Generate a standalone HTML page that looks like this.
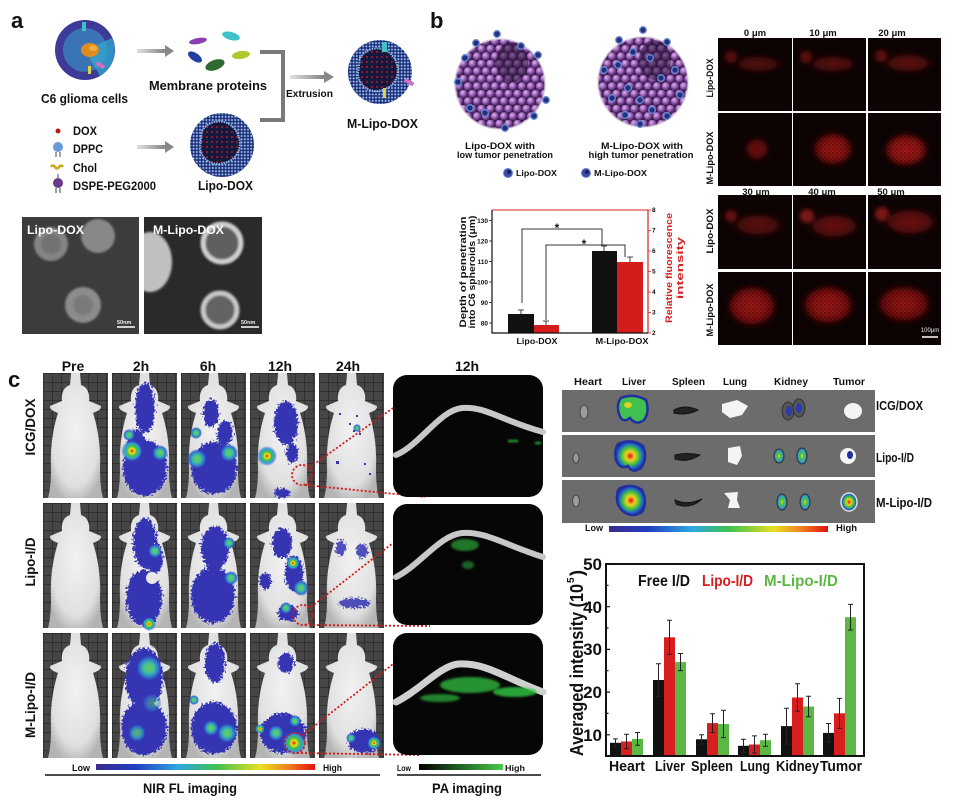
<!DOCTYPE html>
<html><head><meta charset="utf-8"><style>
html,body{margin:0;padding:0;background:#fff;}
svg{display:block;}
text{font-family:"Liberation Sans",Arial,sans-serif;font-weight:bold;fill:#111;}
</style></head><body>
<svg width="955" height="800" viewBox="0 0 955 800" xmlns="http://www.w3.org/2000/svg">
<defs>
  <linearGradient id="arr" x1="0" x2="1"><stop offset="0" stop-color="#e0e0e0"/><stop offset="1" stop-color="#808080"/></linearGradient>
  <pattern id="lipoDots" width="3.2" height="3.2" patternUnits="userSpaceOnUse"><rect width="3.2" height="3.2" fill="#1d2c78"/><circle cx="1.6" cy="1.6" r="1" fill="#9cc4ee"/></pattern>
  <pattern id="redDots" width="5" height="5" patternUnits="userSpaceOnUse"><rect width="5" height="5" fill="#14183e"/><circle cx="2" cy="2" r="0.9" fill="#e02020"/></pattern>
  <radialGradient id="ball" cx="0.38" cy="0.35" r="0.65"><stop offset="0" stop-color="#e0b8ee"/><stop offset="0.5" stop-color="#9c62b8"/><stop offset="1" stop-color="#4a2462"/></radialGradient>
  <pattern id="balls" width="9" height="15" patternUnits="userSpaceOnUse"><rect width="9" height="15" fill="#3c1e50"/><circle cx="4.5" cy="3.8" r="4.2" fill="url(#ball)"/><circle cx="0" cy="11.3" r="4.2" fill="url(#ball)"/><circle cx="9" cy="11.3" r="4.2" fill="url(#ball)"/></pattern>
  <pattern id="grid" width="9" height="9" patternUnits="userSpaceOnUse"><rect width="9" height="9" fill="#464646"/><path d="M0 0H9M0 0V9" stroke="#282828" stroke-width="1.4"/></pattern>
  <pattern id="speck" width="4" height="4" patternUnits="userSpaceOnUse"><circle cx="1" cy="1" r="0.9" fill="#000"/><circle cx="3" cy="3" r="0.7" fill="#000"/></pattern>
  <radialGradient id="mouseG" cx="0.5" cy="0.45" r="0.6"><stop offset="0" stop-color="#f2f2f2"/><stop offset="0.75" stop-color="#e0e0e0"/><stop offset="1" stop-color="#b4b4b4"/></radialGradient>
  <path id="mouse" d="M28,0 L37,0 L38,12 C45,14 47,22 46,28 L58,33 C59,37 52,39 50,40 C55,55 58,75 57,95 C57,108 58,118 60,125 L5,125 C7,118 8,108 8,95 C7,75 10,55 15,40 C13,39 6,37 7,33 L19,28 C18,22 20,14 27,12 Z"/>
  <filter id="rag" x="-20%" y="-20%" width="140%" height="140%"><feTurbulence type="fractalNoise" baseFrequency="0.45" numOctaves="2" seed="4"/><feDisplacementMap in="SourceGraphic" scale="9" xChannelSelector="R" yChannelSelector="G"/></filter>
  <filter id="blur2"><feGaussianBlur stdDeviation="2"/></filter>
  <filter id="blur1"><feGaussianBlur stdDeviation="1"/></filter>
  <radialGradient id="hot"><stop offset="0" stop-color="#e01010"/><stop offset="0.22" stop-color="#f0e020"/><stop offset="0.45" stop-color="#40c040"/><stop offset="0.7" stop-color="#30a0e0"/><stop offset="1" stop-color="#3a3ab8" stop-opacity="0"/></radialGradient>
  <radialGradient id="warm"><stop offset="0" stop-color="#70d040"/><stop offset="0.4" stop-color="#40c0a0"/><stop offset="0.75" stop-color="#3070d0"/><stop offset="1" stop-color="#3a3ab8" stop-opacity="0"/></radialGradient>
  <radialGradient id="redBlob"><stop offset="0" stop-color="#c81e1e"/><stop offset="0.7" stop-color="#961212"/><stop offset="1" stop-color="#400606" stop-opacity="0"/></radialGradient>
  <radialGradient id="dimBlob"><stop offset="0" stop-color="#701212"/><stop offset="0.7" stop-color="#520d0d"/><stop offset="1" stop-color="#200404" stop-opacity="0"/></radialGradient>
  <linearGradient id="rainbow" x1="0" x2="1"><stop offset="0" stop-color="#3a2a90"/><stop offset="0.18" stop-color="#2040c0"/><stop offset="0.38" stop-color="#30a8e0"/><stop offset="0.55" stop-color="#40c050"/><stop offset="0.75" stop-color="#e8e020"/><stop offset="0.88" stop-color="#f08020"/><stop offset="1" stop-color="#e01010"/></linearGradient>
  <linearGradient id="greenbar" x1="0" x2="1"><stop offset="0" stop-color="#000"/><stop offset="1" stop-color="#48c848"/></linearGradient>
  <radialGradient id="organHot"><stop offset="0" stop-color="#e01010"/><stop offset="0.3" stop-color="#f0d020"/><stop offset="0.6" stop-color="#40c040"/><stop offset="0.85" stop-color="#2060d0"/><stop offset="1" stop-color="#2030a0"/></radialGradient>
  <radialGradient id="organWarm"><stop offset="0" stop-color="#e0e020"/><stop offset="0.35" stop-color="#50c040"/><stop offset="0.8" stop-color="#30a0d0"/><stop offset="1" stop-color="#2030a0"/></radialGradient>
  <clipPath id="tem2"><rect x="144" y="217" width="118" height="117"/></clipPath>
  <clipPath id="sph1"><circle cx="500" cy="84" r="45"/></clipPath>
  <clipPath id="sph2"><circle cx="643" cy="82" r="45"/></clipPath>
</defs>

<!-- ============ PANEL A ============ -->
<text x="11" y="28" font-size="22">a</text>
<circle cx="85" cy="50" r="30" fill="#3d3a98"/>
<path d="M85,50 L112,38 A30,30 0 0 1 100,76 Z" fill="#2f8fc0"/>
<circle cx="85" cy="50" r="22" fill="#3aa4d0" opacity="0.55"/>
<ellipse cx="90" cy="50" rx="9" ry="7" fill="#e08a20"/>
<ellipse cx="93" cy="48" rx="4" ry="3" fill="#f0b040"/>
<rect x="82" y="22" width="4" height="9" fill="#40c0c0"/>
<rect x="96" y="63" width="9" height="4" fill="#d070c0" transform="rotate(30 100 65)"/>
<rect x="88" y="66" width="3" height="8" fill="#e0d040"/>
<text x="41" y="103" font-size="13" textLength="87" lengthAdjust="spacingAndGlyphs">C6 glioma cells</text>
<g fill="url(#arr)">
  <rect x="137" y="49" width="30" height="4"/><path d="M165,45 L174,51 L165,57 Z" fill="#888"/>
  <rect x="137" y="145" width="30" height="4"/><path d="M165,141 L174,147 L165,153 Z" fill="#888"/>
  <rect x="290" y="75" width="36" height="4"/><path d="M324,71 L334,77 L324,83 Z" fill="#888"/>
</g>
<ellipse cx="198" cy="41" rx="9" ry="3" fill="#8a40b0" transform="rotate(-10 198 41)"/>
<ellipse cx="231" cy="36" rx="9" ry="4" fill="#40c0c8" transform="rotate(15 231 36)"/>
<ellipse cx="195" cy="57" rx="8" ry="4" fill="#2040a0" transform="rotate(35 195 57)"/>
<ellipse cx="215" cy="65" rx="10" ry="5" fill="#2e6a30" transform="rotate(-20 215 65)"/>
<ellipse cx="241" cy="55" rx="9" ry="4" fill="#b0c830" transform="rotate(-8 241 55)"/>
<text x="149" y="90" font-size="13" textLength="118" lengthAdjust="spacingAndGlyphs">Membrane proteins</text>
<path d="M260,52 H283 V120 H260" fill="none" stroke="#7a7a7a" stroke-width="4"/>
<text x="286" y="97" font-size="10.5" textLength="47" lengthAdjust="spacingAndGlyphs">Extrusion</text>
<g>
  <circle cx="222" cy="145" r="32" fill="url(#lipoDots)"/>
  <path d="M222,145 m-20,-14 a20,20 0 0 1 36,4 a20,20 0 0 1 -14,28 a18,18 0 0 1 -24,-16 z" fill="url(#redDots)" stroke="#8ab8e8" stroke-width="2" stroke-dasharray="1.5,1"/>
</g>
<text x="198" y="190" font-size="13" textLength="55" lengthAdjust="spacingAndGlyphs">Lipo-DOX</text>
<g>
  <circle cx="380" cy="72" r="32" fill="url(#lipoDots)"/>
  <path d="M380,72 m-20,-14 a20,20 0 0 1 36,4 a20,20 0 0 1 -14,28 a18,18 0 0 1 -24,-16 z" fill="url(#redDots)" stroke="#8ab8e8" stroke-width="2" stroke-dasharray="1.5,1"/>
  <rect x="382" y="42" width="5" height="10" fill="#40c0c0"/>
  <rect x="404" y="80" width="10" height="4" fill="#d070c0" transform="rotate(30 409 82)"/>
  <rect x="383" y="88" width="3" height="10" fill="#e0d040"/>
</g>
<text x="347" y="128" font-size="13" textLength="71" lengthAdjust="spacingAndGlyphs">M-Lipo-DOX</text>
<circle cx="58" cy="131" r="2.5" fill="#c01818"/>
<text x="73" y="135" font-size="12" textLength="24" lengthAdjust="spacingAndGlyphs">DOX</text>
<circle cx="58" cy="147" r="5" fill="#6a9ad8"/><path d="M56,152 V157 M60,152 V157" stroke="#345" stroke-width="1"/>
<text x="73" y="153" font-size="12" textLength="30" lengthAdjust="spacingAndGlyphs">DPPC</text>
<path d="M51,167 q2,-3 4,0 t4,0 t4,0" stroke="#c8a820" stroke-width="2.5" fill="none"/>
<text x="73" y="172" font-size="12" textLength="24" lengthAdjust="spacingAndGlyphs">Chol</text>
<circle cx="58" cy="183" r="5" fill="#6a3a88"/><path d="M56,188 V193 M60,188 V193" stroke="#345" stroke-width="1"/><path d="M58,178 V174" stroke="#6a3a88"/>
<text x="73" y="190" font-size="12" textLength="83" lengthAdjust="spacingAndGlyphs">DSPE-PEG2000</text>
<!-- TEM -->
<rect x="22" y="217" width="117" height="117" fill="#3c3c3c"/>
<g filter="url(#blur1)">
  <circle cx="51" cy="244" r="17" fill="#848484"/><circle cx="98" cy="236" r="17" fill="#888"/><circle cx="83" cy="305" r="18" fill="#8c8c8c"/>
  <circle cx="51" cy="244" r="10" fill="#727272"/><circle cx="83" cy="305" r="10" fill="#7a7a7a"/>
</g>
<text x="27" y="234" font-size="11.5" style="fill:#fff" textLength="57" lengthAdjust="spacingAndGlyphs">Lipo-DOX</text>
<path d="M117,327 H135" stroke="#fff" stroke-width="1.5"/>
<text x="117" y="324" font-size="5.5" style="fill:#eee">50nm</text>
<rect x="144" y="217" width="118" height="117" fill="#2a2a2a"/>
<g clip-path="url(#tem2)" filter="url(#blur1)">
  <ellipse cx="150" cy="262" rx="22" ry="30" fill="#c0c0c0"/>
  <circle cx="222" cy="243" r="19" fill="#5e5e5e" stroke="#d0d0d0" stroke-width="5"/>
  <circle cx="220" cy="310" r="17" fill="#646464" stroke="#c8c8c8" stroke-width="5"/>
</g>
<text x="153" y="234" font-size="11.5" style="fill:#fff" textLength="71" lengthAdjust="spacingAndGlyphs">M-Lipo-DOX</text>
<path d="M241,327 H259" stroke="#fff" stroke-width="1.5"/>
<text x="241" y="324" font-size="5.5" style="fill:#eee">50nm</text>

<!-- ============ PANEL B ============ -->
<text x="430" y="28" font-size="22">b</text>
<g clip-path="url(#sph1)">
  <rect x="450" y="35" width="100" height="100" fill="url(#balls)"/>
  <ellipse cx="512" cy="62" rx="16" ry="20" fill="#2a1438" opacity="0.55"/>
</g>
<circle cx="500" cy="84" r="45" fill="none" stroke="#d8d0dc" stroke-width="2" opacity="0.6"/>
<g fill="#24307a" stroke="#6a8ad8" stroke-width="1.3">
  <circle cx="497" cy="34" r="3.3"/><circle cx="476" cy="43" r="3.3"/><circle cx="465" cy="58" r="3.3"/><circle cx="458" cy="82" r="3.3"/>
  <circle cx="470" cy="108" r="3.3"/><circle cx="485" cy="113" r="3.3"/><circle cx="505" cy="128" r="3.3"/><circle cx="534" cy="116" r="3.3"/><circle cx="546" cy="100" r="3.3"/><circle cx="538" cy="55" r="3.3"/><circle cx="521" cy="46" r="3.3"/>
</g>
<g clip-path="url(#sph2)">
  <rect x="593" y="33" width="100" height="100" fill="url(#balls)"/>
  <ellipse cx="655" cy="60" rx="16" ry="20" fill="#2a1438" opacity="0.55"/>
</g>
<circle cx="643" cy="82" r="45" fill="none" stroke="#d8d0dc" stroke-width="2" opacity="0.6"/>
<g fill="#24307a" stroke="#6a8ad8" stroke-width="1.3">
  <circle cx="643" cy="30" r="3.3"/><circle cx="619" cy="40" r="3.3"/><circle cx="667" cy="42" r="3.3"/><circle cx="604" cy="70" r="3.3"/><circle cx="618" cy="65" r="3.3"/>
  <circle cx="628" cy="88" r="3.3"/><circle cx="612" cy="98" r="3.3"/><circle cx="640" cy="100" r="3.3"/><circle cx="661" cy="78" r="3.3"/><circle cx="675" cy="70" r="3.3"/>
  <circle cx="680" cy="95" r="3.3"/><circle cx="652" cy="110" r="3.3"/><circle cx="640" cy="124" r="3.3"/><circle cx="625" cy="115" r="3.3"/><circle cx="667" cy="116" r="3.3"/><circle cx="650" cy="58" r="3.3"/><circle cx="633" cy="52" r="3.3"/>
</g>
<text x="500" y="149" font-size="9.5" text-anchor="middle" textLength="70" lengthAdjust="spacingAndGlyphs">Lipo-DOX with</text>
<text x="505" y="158" font-size="9.5" text-anchor="middle" textLength="96" lengthAdjust="spacingAndGlyphs">low tumor penetration</text>
<text x="642" y="149" font-size="9.5" text-anchor="middle" textLength="82" lengthAdjust="spacingAndGlyphs">M-Lipo-DOX with</text>
<text x="641" y="158" font-size="9.5" text-anchor="middle" textLength="105" lengthAdjust="spacingAndGlyphs">high tumor penetration</text>
<circle cx="508" cy="173" r="4.5" fill="#3a4aa8" stroke="#6a80d0" stroke-width="1"/><circle cx="509" cy="172" r="1.8" fill="#181848"/>
<text x="516" y="176" font-size="8.5" textLength="41" lengthAdjust="spacingAndGlyphs">Lipo-DOX</text>
<circle cx="586" cy="173" r="4.5" fill="#3a4aa8" stroke="#6a80d0" stroke-width="1"/><circle cx="587" cy="172" r="1.8" fill="#181848"/>
<text x="594" y="176" font-size="8.5" textLength="53" lengthAdjust="spacingAndGlyphs">M-Lipo-DOX</text>
<!-- bar chart b -->
<rect x="508" y="314" width="26" height="19" fill="#111"/>
<rect x="534" y="325" width="25" height="8" fill="#d41c1c"/>
<rect x="592" y="251" width="25" height="82" fill="#111"/>
<rect x="617" y="262" width="26" height="71" fill="#d41c1c"/>
<g stroke="#111" stroke-width="0.8">
  <path d="M521,314 V310 M518,310 H524"/><path d="M546,325 V321 M543,321 H549"/>
  <path d="M604,251 V246 M601,246 H607"/><path d="M630,262 V257 M627,257 H633"/>
</g>
<g fill="none" stroke="#333" stroke-width="1">
  <path d="M522,303 V229 H602 V246"/><path d="M546,320 V245 H625 V257"/>
</g>
<text x="557" y="232" font-size="12" text-anchor="middle">*</text>
<text x="584" y="248" font-size="12" text-anchor="middle">*</text>
<path d="M492,210 H648" stroke="#d42020" stroke-width="1"/>
<path d="M648,210 V333" stroke="#d42020" stroke-width="1.2"/>
<path d="M492,210 V333 H648" fill="none" stroke="#111" stroke-width="1.2"/>
<g stroke="#111" stroke-width="0.8"><path d="M489,220.5H492M489,241H492M489,261.5H492M489,282H492M489,302.5H492M489,323H492"/></g>
<g font-size="6.5" text-anchor="end" style="font-weight:normal">
  <text x="488" y="223">130</text><text x="488" y="243.5">120</text><text x="488" y="264">110</text><text x="488" y="284.5">100</text><text x="488" y="305">90</text><text x="488" y="325.5">80</text>
</g>
<g stroke="#d42020" stroke-width="0.8"><path d="M648,210H651M648,230.5H651M648,251H651M648,271.5H651M648,292H651M648,312.5H651M648,333H651"/></g>
<g font-size="6.5" style="font-weight:normal;fill:#d42020">
  <text x="652" y="212">8</text><text x="652" y="232.5">7</text><text x="652" y="253">6</text><text x="652" y="273.5">5</text><text x="652" y="294">4</text><text x="652" y="314.5">3</text><text x="652" y="335">2</text>
</g>
<text transform="translate(466,272) rotate(-90)" x="0" y="0" font-size="9.5" text-anchor="middle" textLength="111" lengthAdjust="spacingAndGlyphs">Depth of penetration</text>
<text transform="translate(475,272) rotate(-90)" x="0" y="0" font-size="9.5" text-anchor="middle" textLength="113" lengthAdjust="spacingAndGlyphs">into C6 spheroids (μm)</text>
<text transform="translate(672,268) rotate(-90)" x="0" y="0" font-size="9.5" text-anchor="middle" textLength="110" lengthAdjust="spacingAndGlyphs" style="fill:#d42020">Relative fluorescence</text>
<text transform="translate(683,268) rotate(-90)" x="0" y="0" font-size="9.5" text-anchor="middle" textLength="62" lengthAdjust="spacingAndGlyphs" style="fill:#d42020">intensity</text>
<text x="537" y="344" font-size="8" text-anchor="middle" textLength="41" lengthAdjust="spacingAndGlyphs">Lipo-DOX</text>
<text x="622" y="344" font-size="8" text-anchor="middle" textLength="53" lengthAdjust="spacingAndGlyphs">M-Lipo-DOX</text>

<!-- fluorescence grid -->
<g font-size="9.5" text-anchor="middle">
  <text x="755" y="36">0 μm</text><text x="823" y="36">10 μm</text><text x="892" y="36">20 μm</text>
  <text x="756" y="195">30 μm</text><text x="822" y="195">40 μm</text><text x="891" y="195">50 μm</text>
</g>
<g font-size="9.5" text-anchor="middle">
  <text transform="translate(713,78) rotate(-90)" textLength="39" lengthAdjust="spacingAndGlyphs">Lipo-DOX</text>
  <text transform="translate(713,158) rotate(-90)" textLength="53" lengthAdjust="spacingAndGlyphs">M-Lipo-DOX</text>
  <text transform="translate(713,231) rotate(-90)" textLength="45" lengthAdjust="spacingAndGlyphs">Lipo-DOX</text>
  <text transform="translate(713,310) rotate(-90)" textLength="53" lengthAdjust="spacingAndGlyphs">M-Lipo-DOX</text>
</g>
<g fill="#0e0303">
  <rect x="718" y="38" width="74" height="73"/><rect x="793" y="38" width="73" height="73"/><rect x="868" y="38" width="73" height="73"/>
  <rect x="718" y="113" width="74" height="73"/><rect x="793" y="113" width="73" height="73"/><rect x="868" y="113" width="73" height="73"/>
  <rect x="718" y="195" width="74" height="74"/><rect x="793" y="195" width="73" height="74"/><rect x="868" y="195" width="73" height="74"/>
  <rect x="718" y="272" width="74" height="73"/><rect x="793" y="272" width="73" height="73"/><rect x="868" y="272" width="73" height="73"/>
</g>
<g filter="url(#blur2)">
  <circle cx="731" cy="57" r="6" fill="#520b0b"/><ellipse cx="758" cy="64" rx="25" ry="9" fill="url(#dimBlob)" opacity="0.7"/>
  <circle cx="806" cy="57" r="6" fill="#5c0e0e"/><ellipse cx="833" cy="64" rx="25" ry="9" fill="url(#dimBlob)" opacity="0.75"/>
  <circle cx="881" cy="56" r="6" fill="#600e0e"/><ellipse cx="908" cy="63" rx="26" ry="10" fill="url(#dimBlob)" opacity="0.8"/>
  <ellipse cx="757" cy="149" rx="13" ry="12" fill="url(#redBlob)" opacity="0.5"/>
  <ellipse cx="833" cy="149" rx="22" ry="18" fill="url(#redBlob)" opacity="0.8"/>
  <ellipse cx="906" cy="150" rx="24" ry="18" fill="url(#redBlob)" opacity="0.85"/>
  <circle cx="731" cy="216" r="6" fill="#661010"/><ellipse cx="758" cy="225" rx="26" ry="12" fill="url(#dimBlob)" opacity="0.8"/>
  <circle cx="807" cy="216" r="7" fill="#7a1414"/><ellipse cx="834" cy="226" rx="27" ry="13" fill="url(#dimBlob)" opacity="0.9"/>
  <circle cx="882" cy="214" r="7" fill="#7a1414"/><ellipse cx="910" cy="222" rx="28" ry="14" fill="url(#dimBlob)" opacity="0.95"/>
  <ellipse cx="752" cy="306" rx="27" ry="22" fill="url(#redBlob)" opacity="0.8"/>
  <ellipse cx="828" cy="305" rx="28" ry="21" fill="url(#redBlob)" opacity="0.8"/>
  <ellipse cx="904" cy="304" rx="29" ry="20" fill="url(#redBlob)" opacity="0.75"/>
</g>
<g fill="url(#speck)" opacity="0.45">
  <rect x="793" y="120" width="73" height="60"/><rect x="868" y="120" width="73" height="60"/>
  <rect x="718" y="280" width="74" height="55"/><rect x="793" y="280" width="73" height="55"/><rect x="868" y="280" width="73" height="55"/>
</g>
<path d="M922,337 H938" stroke="#fff" stroke-width="1.5"/>
<text x="930" y="332" font-size="6" text-anchor="middle" style="fill:#eee;font-weight:normal">100μm</text>

<!-- ============ PANEL C ============ -->
<text x="8" y="387" font-size="22">c</text>
<g font-size="14" text-anchor="middle">
  <text x="73" y="371">Pre</text><text x="141" y="371">2h</text><text x="208" y="371">6h</text><text x="280" y="371">12h</text><text x="348" y="371">24h</text>
  <text x="467" y="371">12h</text>
</g>
<g font-size="14" text-anchor="middle">
  <text transform="translate(35,427) rotate(-90)" textLength="57" lengthAdjust="spacingAndGlyphs">ICG/DOX</text>
  <text transform="translate(35,562) rotate(-90)" textLength="49" lengthAdjust="spacingAndGlyphs">Lipo-I/D</text>
  <text transform="translate(35,705) rotate(-90)" textLength="66" lengthAdjust="spacingAndGlyphs">M-Lipo-I/D</text>
</g>
<g>
  <g transform="translate(43,373)"><rect width="65" height="125" fill="url(#grid)"/><use href="#mouse" fill="url(#mouseG)"/></g>
  <g transform="translate(112,373)"><rect width="65" height="125" fill="url(#grid)"/><use href="#mouse" fill="url(#mouseG)"/>
    <g filter="url(#rag)" fill="#3636b4"><ellipse cx="33" cy="35" rx="10" ry="25"/><ellipse cx="33" cy="95" rx="22" ry="28"/><ellipse cx="24" cy="70" rx="9" ry="14"/></g>
    <circle cx="20" cy="78" r="11" fill="url(#hot)"/><circle cx="17" cy="62" r="6" fill="url(#warm)"/><circle cx="48" cy="80" r="8" fill="url(#warm)"/></g>
  <g transform="translate(181,373)"><rect width="65" height="125" fill="url(#grid)"/><use href="#mouse" fill="url(#mouseG)"/>
    <g filter="url(#rag)" fill="#3636b4"><ellipse cx="30" cy="40" rx="8" ry="14"/><ellipse cx="33" cy="95" rx="23" ry="26"/><ellipse cx="44" cy="60" rx="8" ry="12"/></g>
    <circle cx="16" cy="86" r="10" fill="url(#warm)"/><circle cx="48" cy="80" r="9" fill="url(#warm)"/><circle cx="15" cy="60" r="6" fill="url(#warm)"/></g>
  <g transform="translate(250,373)"><rect width="65" height="125" fill="url(#grid)"/><use href="#mouse" fill="url(#mouseG)"/>
    <g filter="url(#rag)" fill="#3636b4"><ellipse cx="36" cy="50" rx="12" ry="22"/><ellipse cx="42" cy="80" rx="6" ry="10"/><ellipse cx="32" cy="120" rx="8" ry="5"/></g>
    <circle cx="17" cy="83" r="10" fill="url(#hot)"/></g>
  <g transform="translate(319,373)"><rect width="65" height="125" fill="url(#grid)"/><use href="#mouse" fill="url(#mouseG)"/>
    <g fill="#3636b4"><rect x="20" y="40" width="2" height="2"/><rect x="30" y="50" width="2" height="2"/><rect x="37" y="42" width="2" height="2"/><rect x="34" y="57" width="2" height="2"/><rect x="17" y="88" width="3" height="3"/><rect x="45" y="90" width="2" height="2"/><rect x="50" y="100" width="2" height="2"/><rect x="40" y="60" width="2" height="2"/></g>
    <circle cx="38" cy="55" r="4" fill="url(#warm)"/></g>

  <g transform="translate(43,503)"><rect width="65" height="125" fill="url(#grid)"/><use href="#mouse" fill="url(#mouseG)"/></g>
  <g transform="translate(112,503)"><rect width="65" height="125" fill="url(#grid)"/><use href="#mouse" fill="url(#mouseG)"/>
    <g filter="url(#rag)" fill="#3636b4"><ellipse cx="33" cy="40" rx="12" ry="25"/><ellipse cx="32" cy="95" rx="18" ry="28"/><ellipse cx="43" cy="55" rx="8" ry="15"/></g>
    <circle cx="43" cy="48" r="7" fill="url(#warm)"/><circle cx="37" cy="121" r="7" fill="url(#hot)"/><circle cx="40" cy="75" r="6" fill="#e8e8e8"/></g>
  <g transform="translate(181,503)"><rect width="65" height="125" fill="url(#grid)"/><use href="#mouse" fill="url(#mouseG)"/>
    <g filter="url(#rag)" fill="#3636b4"><ellipse cx="34" cy="45" rx="14" ry="22"/><ellipse cx="32" cy="92" rx="22" ry="28"/></g>
    <circle cx="48" cy="40" r="6" fill="url(#warm)"/><circle cx="50" cy="75" r="7" fill="url(#warm)"/></g>
  <g transform="translate(250,503)"><rect width="65" height="125" fill="url(#grid)"/><use href="#mouse" fill="url(#mouseG)"/>
    <g filter="url(#rag)" fill="#3636b4"><ellipse cx="32" cy="40" rx="10" ry="15"/><ellipse cx="44" cy="70" rx="9" ry="18"/><ellipse cx="15" cy="78" rx="6" ry="8"/><ellipse cx="38" cy="110" rx="10" ry="8"/></g>
    <circle cx="43" cy="60" r="7" fill="url(#hot)"/><circle cx="51" cy="85" r="8" fill="url(#warm)"/><circle cx="36" cy="105" r="6" fill="url(#warm)"/></g>
  <g transform="translate(319,503)"><rect width="65" height="125" fill="url(#grid)"/><use href="#mouse" fill="url(#mouseG)"/>
    <g filter="url(#rag)" fill="#3636b4" opacity="0.85"><ellipse cx="22" cy="45" rx="5" ry="8"/><ellipse cx="43" cy="48" rx="6" ry="7"/><ellipse cx="35" cy="100" rx="16" ry="5"/></g></g>

  <g transform="translate(43,633)"><rect width="65" height="125" fill="url(#grid)"/><use href="#mouse" fill="url(#mouseG)"/></g>
  <g transform="translate(112,633)"><rect width="65" height="125" fill="url(#grid)"/><use href="#mouse" fill="url(#mouseG)"/>
    <g filter="url(#rag)" fill="#3636b4"><ellipse cx="32" cy="45" rx="19" ry="30"/><ellipse cx="32" cy="95" rx="23" ry="27"/></g>
    <circle cx="37" cy="35" r="13" fill="url(#warm)"/><circle cx="25" cy="100" r="9" fill="url(#warm)" opacity="0.8"/><circle cx="40" cy="70" r="10" fill="url(#warm)" opacity="0.5"/></g>
  <g transform="translate(181,633)"><rect width="65" height="125" fill="url(#grid)"/><use href="#mouse" fill="url(#mouseG)"/>
    <g filter="url(#rag)" fill="#3636b4"><ellipse cx="34" cy="30" rx="10" ry="20"/><ellipse cx="33" cy="95" rx="23" ry="26"/></g>
    <circle cx="30" cy="95" r="8" fill="url(#warm)"/><circle cx="46" cy="100" r="10" fill="url(#warm)"/><circle cx="13" cy="67" r="5" fill="url(#warm)"/></g>
  <g transform="translate(250,633)"><rect width="65" height="125" fill="url(#grid)"/><use href="#mouse" fill="url(#mouseG)"/>
    <g filter="url(#rag)" fill="#3636b4"><ellipse cx="36" cy="30" rx="8" ry="10"/><ellipse cx="33" cy="100" rx="23" ry="20"/></g>
    <circle cx="44" cy="110" r="12" fill="url(#hot)"/><circle cx="26" cy="100" r="8" fill="url(#warm)"/><circle cx="10" cy="96" r="5" fill="url(#hot)"/><circle cx="45" cy="88" r="6" fill="url(#warm)"/></g>
  <g transform="translate(319,633)"><rect width="65" height="125" fill="url(#grid)"/><use href="#mouse" fill="url(#mouseG)"/>
    <g filter="url(#rag)" fill="#3636b4"><ellipse cx="45" cy="108" rx="16" ry="12"/></g>
    <circle cx="55" cy="110" r="7" fill="url(#hot)"/><circle cx="32" cy="105" r="5" fill="url(#warm)"/></g>
</g>
<g fill="none" stroke="#d41818" stroke-width="1.8" stroke-dasharray="2,2">
  <circle cx="302" cy="475" r="10"/><path d="M310,467 L393,408 M305,485 L425,497"/>
  <circle cx="303" cy="615" r="10"/><path d="M311,607 L393,543 M305,625 L430,626"/>
  <circle cx="295" cy="743" r="10"/><path d="M303,735 L393,664 M297,753 L421,755"/>
</g>
<text x="72" y="771" font-size="9.5" textLength="18" lengthAdjust="spacingAndGlyphs">Low</text>
<rect x="96" y="764" width="219" height="6" fill="url(#rainbow)"/>
<text x="323" y="771" font-size="9.5" textLength="19" lengthAdjust="spacingAndGlyphs">High</text>
<path d="M45,775 H380" stroke="#111" stroke-width="1.5"/>
<text x="143" y="793" font-size="14" textLength="94" lengthAdjust="spacingAndGlyphs">NIR FL imaging</text>
<!-- PA images -->
<rect x="393" y="375" width="150" height="122" rx="14" fill="#060606"/>
<rect x="393" y="504" width="150" height="121" rx="14" fill="#060606"/>
<rect x="393" y="633" width="150" height="122" rx="14" fill="#060606"/>
<g fill="none" stroke-linecap="round">
  <path d="M396,455 C420,445 440,410 462,408 C485,406 500,420 543,432" stroke="#c8c8c8" stroke-width="6"/>
  <path d="M396,577 C420,565 440,535 462,533 C485,531 505,545 543,557" stroke="#c8c8c8" stroke-width="6"/>
  <path d="M396,702 C420,690 440,666 458,664 C485,662 505,678 543,692" stroke="#d0d0d0" stroke-width="7"/>
</g>
<g fill="#30c040" filter="url(#blur1)">
  <rect x="508" y="440" width="10" height="2"/><rect x="535" y="442" width="6" height="2"/>
  <ellipse cx="465" cy="545" rx="14" ry="6" opacity="0.6"/><ellipse cx="468" cy="565" rx="6" ry="4" opacity="0.5"/>
  <ellipse cx="470" cy="685" rx="30" ry="8" opacity="0.75"/><ellipse cx="515" cy="692" rx="22" ry="5" opacity="0.85"/><ellipse cx="440" cy="698" rx="20" ry="4" opacity="0.65"/>
</g>
<text x="397" y="771" font-size="8.5" textLength="14" lengthAdjust="spacingAndGlyphs">Low</text>
<rect x="419" y="764" width="84" height="6" fill="url(#greenbar)"/>
<text x="505" y="771" font-size="8.5" textLength="20" lengthAdjust="spacingAndGlyphs">High</text>
<path d="M397,775 H541" stroke="#111" stroke-width="1.5"/>
<text x="432" y="793" font-size="14" textLength="70" lengthAdjust="spacingAndGlyphs">PA imaging</text>

<!-- organ images -->
<g font-size="10.5">
  <text x="574" y="385" textLength="28" lengthAdjust="spacingAndGlyphs">Heart</text>
  <text x="622" y="385" textLength="24" lengthAdjust="spacingAndGlyphs">Liver</text>
  <text x="672" y="385" textLength="33" lengthAdjust="spacingAndGlyphs">Spleen</text>
  <text x="723" y="385" textLength="24" lengthAdjust="spacingAndGlyphs">Lung</text>
  <text x="774" y="385" textLength="34" lengthAdjust="spacingAndGlyphs">Kidney</text>
  <text x="833" y="385" textLength="32" lengthAdjust="spacingAndGlyphs">Tumor</text>
</g>
<rect x="562" y="390" width="313" height="42" fill="#6c6c6c"/>
<rect x="562" y="435" width="313" height="42" fill="#6c6c6c"/>
<rect x="562" y="480" width="313" height="43" fill="#6c6c6c"/>
<g font-size="13">
  <text x="876" y="410" textLength="47" lengthAdjust="spacingAndGlyphs">ICG/DOX</text>
  <text x="876" y="462" textLength="38" lengthAdjust="spacingAndGlyphs">Lipo-I/D</text>
  <text x="876" y="507" textLength="56" lengthAdjust="spacingAndGlyphs">M-Lipo-I/D</text>
</g>
<ellipse cx="584" cy="412" rx="4" ry="7" fill="#9a9a9a" stroke="#444"/>
<path d="M621,398 Q634,393 646,400 Q650,412 644,420 Q636,426 630,418 Q622,424 619,414 Q616,404 621,398 Z" fill="#40c050" stroke="#2030a0" stroke-width="2.5"/>
<ellipse cx="628" cy="405" rx="4" ry="3" fill="#e0d020"/>
<path d="M674,410 Q685,404 698,410 Q686,416 674,413 Z" fill="#222" stroke="#111"/>
<path d="M722,404 L737,400 L748,406 L742,415 L730,418 L722,412 Z" fill="#f4f4f4"/>
<ellipse cx="788" cy="411" rx="6" ry="9" fill="#555" stroke="#333"/><ellipse cx="789" cy="411" rx="3" ry="5" fill="#2a3ab0"/>
<ellipse cx="799" cy="408" rx="6" ry="9" fill="#555" stroke="#333"/><ellipse cx="799" cy="408" rx="3" ry="5" fill="#2a3ab0"/>
<ellipse cx="853" cy="411" rx="9" ry="8" fill="#f4f4f4"/>
<ellipse cx="576" cy="458" rx="3" ry="5" fill="#9a9a9a" stroke="#444"/>
<path d="M618,444 Q632,438 643,446 Q648,458 641,468 Q632,474 628,466 Q620,470 616,460 Q614,450 618,444 Z" fill="url(#organHot)" stroke="#2030a0" stroke-width="2.5"/>
<path d="M675,455 Q687,452 700,455 Q688,463 675,459 Z" fill="#222" stroke="#111"/>
<path d="M728,448 L740,446 L742,456 L737,465 L728,462 Z" fill="#f4f4f4"/>
<ellipse cx="779" cy="456" rx="5" ry="7" fill="url(#organWarm)" stroke="#333"/>
<ellipse cx="802" cy="456" rx="5" ry="8" fill="url(#organWarm)" stroke="#333"/>
<ellipse cx="848" cy="456" rx="8" ry="8" fill="#f4f4f4"/><ellipse cx="850" cy="455" rx="3" ry="4" fill="#2030a0"/>
<ellipse cx="576" cy="501" rx="3.5" ry="6" fill="#9a9a9a" stroke="#444"/>
<path d="M620,488 Q633,483 642,490 Q648,502 642,512 Q632,518 624,512 Q616,506 617,496 Q617,490 620,488 Z" fill="url(#organHot)" stroke="#2030a0" stroke-width="2.5"/>
<path d="M675,500 Q687,506 702,499 Q690,510 676,504 Z" fill="#222" stroke="#111"/>
<path d="M724,493 L738,492 L737,500 L740,508 L728,508 L730,500 Z" fill="#f4f4f4"/>
<ellipse cx="782" cy="502" rx="5" ry="8" fill="url(#organWarm)" stroke="#333"/>
<ellipse cx="805" cy="502" rx="5" ry="8" fill="url(#organWarm)" stroke="#333"/>
<ellipse cx="849" cy="502" rx="8" ry="9" fill="url(#organHot)" stroke="#ddd" stroke-width="1.5"/>
<text x="585" y="531" font-size="9.5" textLength="18" lengthAdjust="spacingAndGlyphs">Low</text>
<rect x="609" y="526" width="219" height="6" fill="url(#rainbow)"/>
<text x="836" y="531" font-size="9.5" textLength="21" lengthAdjust="spacingAndGlyphs">High</text>

<!-- bar chart c -->
<g>
  <rect x="610" y="742.8" width="11" height="13.2" fill="#111"/><rect x="621" y="741.5" width="11" height="14.5" fill="#d81e1e"/><rect x="632" y="738.9" width="11" height="17.1" fill="#5cb845"/>
  <rect x="653" y="680" width="11" height="76" fill="#111"/><rect x="664" y="637.3" width="11" height="118.7" fill="#d81e1e"/><rect x="675" y="662.1" width="11" height="93.9" fill="#5cb845"/>
  <rect x="696" y="739.3" width="11" height="16.7" fill="#111"/><rect x="707" y="723.1" width="11" height="32.9" fill="#d81e1e"/><rect x="718" y="724" width="11" height="32" fill="#5cb845"/>
  <rect x="738" y="745.8" width="11" height="10.2" fill="#111"/><rect x="749" y="744.5" width="11" height="11.5" fill="#d81e1e"/><rect x="760" y="740.2" width="11" height="15.8" fill="#5cb845"/>
  <rect x="781" y="726.1" width="11" height="29.9" fill="#111"/><rect x="792" y="697.5" width="11" height="58.5" fill="#d81e1e"/><rect x="803" y="706.5" width="11" height="49.5" fill="#5cb845"/>
  <rect x="823" y="732.9" width="11" height="23.1" fill="#111"/><rect x="834" y="713.3" width="11" height="42.7" fill="#d81e1e"/><rect x="845" y="617.2" width="11" height="138.8" fill="#5cb845"/>
</g>
<g stroke="#222" stroke-width="1">
  <path d="M615.5,738.9V746.6M613,738.9H618M613,746.6H618"/>
  <path d="M626.5,734.2V748.7M624,734.2H629M624,748.7H629"/>
  <path d="M637.5,732.5V745.3M635,732.5H640M635,745.3H640"/>
  <path d="M658.5,663.8V696.2M656,663.8H661M656,696.2H661"/>
  <path d="M669.5,620.2V654.4M667,620.2H672M667,654.4H672"/>
  <path d="M680.5,653.5V670.6M678,653.5H683M678,670.6H683"/>
  <path d="M701.5,734.7V744M699,734.7H704M699,744H704"/>
  <path d="M712.5,713.7V732.5M710,713.7H715M710,732.5H715"/>
  <path d="M723.5,710.3V737.6M721,710.3H726M721,737.6H726"/>
  <path d="M743.5,739.3V752.2M741,739.3H746M741,752.2H746"/>
  <path d="M754.5,735.9V753M752,735.9H757M752,753H757"/>
  <path d="M765.5,734.2V746.2M763,734.2H768M763,746.2H768"/>
  <path d="M786.5,708.2V744M784,708.2H789M784,744H789"/>
  <path d="M797.5,683.8V711.2M795,683.8H800M795,711.2H800"/>
  <path d="M808.5,696.2V716.7M806,696.2H811M806,716.7H811"/>
  <path d="M828.5,723.5V742.3M826,723.5H831M826,742.3H831"/>
  <path d="M839.5,698.4V728.2M837,698.4H842M837,728.2H842"/>
  <path d="M850.5,604.4V630M848,604.4H853M848,630H853"/>
</g>
<rect x="606" y="564" width="258" height="192" fill="none" stroke="#111" stroke-width="2"/>
<g stroke="#111" stroke-width="1.2"><path d="M606,564h4M606,606.7h4M606,649.4h4M606,692.1h4M606,734.8h4M606,585.3h2.5M606,628h2.5M606,670.7h2.5M606,713.4h2.5"/></g>
<g font-size="17" text-anchor="end">
  <text x="602" y="570">50</text><text x="602" y="613">40</text><text x="602" y="655">30</text><text x="602" y="698">20</text><text x="602" y="741">10</text>
</g>
<g transform="translate(583,756) rotate(-90)">
  <text x="0" y="0" font-size="18" textLength="172" lengthAdjust="spacingAndGlyphs">Averaged intensity (10</text>
  <text x="173" y="-9" font-size="10">5</text>
  <text x="180" y="0" font-size="18">)</text>
</g>
<g font-size="16">
  <text x="638" y="586" textLength="52" lengthAdjust="spacingAndGlyphs">Free I/D</text>
  <text x="702" y="586" textLength="51" lengthAdjust="spacingAndGlyphs" style="fill:#d81e1e">Lipo-I/D</text>
  <text x="764" y="586" textLength="74" lengthAdjust="spacingAndGlyphs" style="fill:#5cb845">M-Lipo-I/D</text>
</g>
<g font-size="15">
  <text x="609" y="771" textLength="36" lengthAdjust="spacingAndGlyphs">Heart</text>
  <text x="655" y="771" textLength="30" lengthAdjust="spacingAndGlyphs">Liver</text>
  <text x="691" y="771" textLength="42" lengthAdjust="spacingAndGlyphs">Spleen</text>
  <text x="740" y="771" textLength="30" lengthAdjust="spacingAndGlyphs">Lung</text>
  <text x="776" y="771" textLength="43" lengthAdjust="spacingAndGlyphs">Kidney</text>
  <text x="820" y="771" textLength="42" lengthAdjust="spacingAndGlyphs">Tumor</text>
</g>
</svg>
</body></html>
